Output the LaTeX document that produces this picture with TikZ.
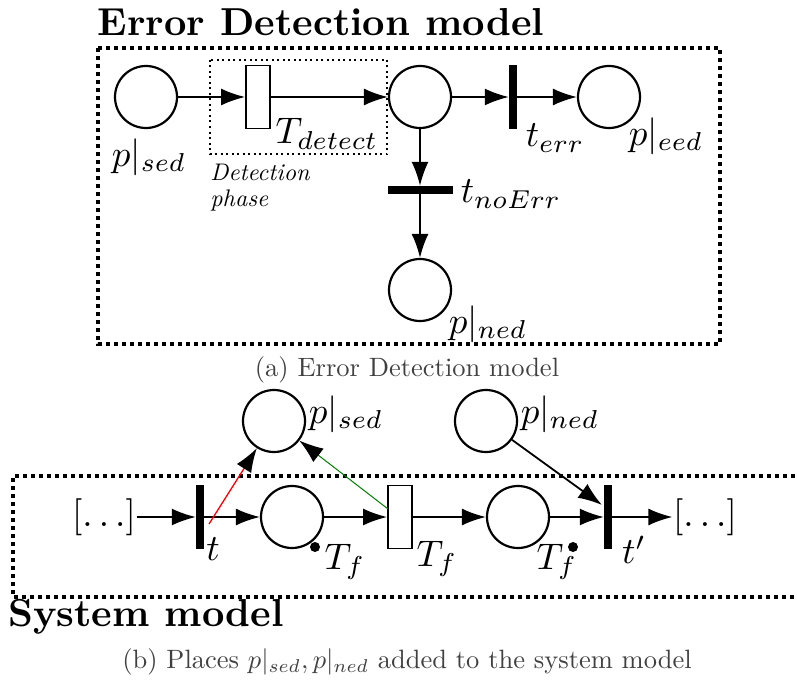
\documentclass[tikz,border=0pt]{standalone}
\usetikzlibrary{arrows.meta}
\begin{document}
\begin{tikzpicture}[x=1pt,y=-1pt,
  place/.style={circle,draw,line width=2.2pt,minimum size=62pt,inner sep=0pt},
  rtrans/.style={rectangle,draw,line width=1.8pt,minimum width=24pt,minimum height=63pt,inner sep=0pt},
  vbar/.style={rectangle,fill=black,minimum width=8pt,minimum height=64pt,inner sep=0pt},
  hbar/.style={rectangle,fill=black,minimum width=65pt,minimum height=8pt,inner sep=0pt},
  arc/.style={line width=1.8pt,-{Latex[length=24pt,width=17pt]}},
  lbl/.style={scale=3.7,transform shape,inner sep=0pt},
  ttl/.style={scale=3.9,transform shape,font=\bfseries,inner sep=0pt},
  captxt/.style={scale=2.65,transform shape,text=black!75,inner sep=0pt},
  bigdots/.style={line width=4pt,dash pattern=on 4pt off 4pt},
  smalldots/.style={line width=2pt,dash pattern=on 2pt off 3.5pt},
  tok/.style={circle,fill=black,minimum size=10pt,inner sep=0pt}
]
\useasboundingbox (0,0) rectangle (797,682);
% ---------- (a) Error detection model ----------
\node[ttl] (title1) at (321,22) {Error Detection model};
\draw[bigdots] (98,48) rectangle (720,344);
\draw[smalldots] (210,60) rectangle (387,154);
\node[place] (psed) at (146,97) {};
\node[rtrans] (Tdet) at (258,97) {};
\node[place] (pmid) at (420,97) {};
\node[vbar] (terr) at (513,97) {};
\node[place] (peed) at (609,97) {};
\node[hbar] (tnoerr) at (420,190) {};
\node[place] (pned) at (420,290) {};
\draw[arc] (psed) -- (Tdet);
\draw[arc] (Tdet) -- (pmid);
\draw[arc] (pmid) -- (terr);
\draw[arc] (terr) -- (peed);
\draw[arc] (pmid) -- (tnoerr);
\draw[arc] (tnoerr) -- (pned);
\node[lbl] (lpsed) at (149,157) {$p|_{sed}$};
\node[lbl] (lTdet) at (327,134) {$T_{detect}$};
\node[lbl] (lterr) at (555,138) {$t_{err}$};
\node[lbl] (lpeed) at (666,136) {$p|_{eed}$};
\node[lbl] (ltnoerr) at (511,194) {$t_{noErr}$};
\node[lbl] (lpned) at (488,324) {$p|_{ned}$};
\node[scale=2.4,transform shape,font=\fontsize{10}{10.5}\selectfont\itshape,align=left,anchor=north west,inner sep=0pt] (ldp) at (210,164) {Detection\\phase};
\node[captxt] (capa) at (407,370) {(a) Error Detection model};
% ---------- (b) System model ----------
\draw[bigdots] (803,476) -- (13,476) -- (13,597) -- (803,597);
\node[place] (psed2) at (274,421) {};
\node[place] (pned2) at (486,421) {};
\node[lbl] (lpsed2) at (346,414) {$p|_{sed}$};
\node[lbl] (lpned2) at (560,414) {$p|_{ned}$};
\node[lbl] (dl) at (104,517) {$[\ldots]$};
\node[vbar] (t) at (200,517) {};
\node[place] (p1) at (292,517) {};
\node[rtrans] (Tf) at (400,517) {};
\node[place] (p2) at (518,517) {};
\node[vbar] (tp) at (608,517) {};
\node[lbl] (dr) at (705,517) {$[\ldots]$};
\node[tok] (d1) at (315,547) {};
\node[tok] (d2) at (573,547) {};
\node[lbl] (lt) at (213,549) {$t$};
\node[lbl] (lTf1) at (345,562) {$T_f$};
\node[lbl] (lTf2) at (437,559) {$T_f$};
\node[lbl] (lTf3) at (557,562) {$T_f$};
\node[lbl] (ltp) at (634,550) {$t'$};
\draw[arc] (dl) -- (t);
\draw[arc] (t) -- (p1);
\draw[arc] (p1) -- (Tf);
\draw[arc] (Tf) -- (p2);
\draw[arc] (p2) -- (tp);
\draw[arc] (tp) -- (dr);
\coordinate (rs) at (209,524);
\coordinate (gs) at (388,509);
\coordinate (ne) at (602,505);
\draw[red,line width=1.3pt,-{Latex[color=black,length=24pt,width=17pt]}] (rs) -- (psed2);
\draw[green!50!black,line width=1pt,-{Latex[color=black,length=24pt,width=17pt]}] (gs) -- (psed2);
\draw[arc] (pned2) -- (ne);
\node[ttl] (title2) at (146,617) {System model};
\node[captxt] (capb) at (407,662) {(b) Places $p|_{sed}, p|_{ned}$ added to the system model};
\end{tikzpicture}
\end{document}
